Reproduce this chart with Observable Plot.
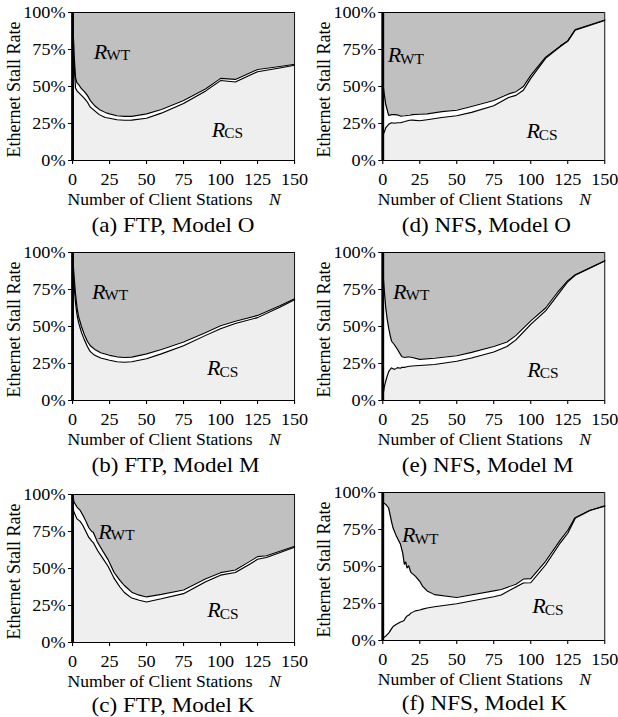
<!DOCTYPE html>
<html><head><meta charset="utf-8">
<script src="https://cdn.jsdelivr.net/npm/d3@7"></script>
<script src="https://cdn.jsdelivr.net/npm/@observablehq/plot@0.6"></script>
<style>
body{margin:0;background:#fff;overflow:hidden;}
#outer{position:relative;width:618px;height:717px;overflow:hidden;}
#wrap{position:absolute;left:0;top:0;width:562px;height:717px;transform:scaleX(1.1);transform-origin:0 0;font-family:"Liberation Serif","Times New Roman",serif;}
.panel{position:absolute;}
</style></head><body><div id="outer"><div id="wrap"></div></div>
<script>
// ---- data ----
const xTicks = [0, 25, 50, 75, 100, 125, 150];
const yTicks = [0, 25, 50, 75, 100];
const xLabelText = "Number of Client Stations";
const xLabelVar = "N";
const yLabelText = "Ethernet Stall Rate";

// (a) FTP, Model O
const nA   = [0, 1, 2, 3, 4, 6, 8, 10, 12, 15, 18, 22, 25, 30, 35, 40, 50, 60, 75, 90, 100, 110, 125, 140, 150];
const upA  = [100, 72, 56, 52.5, 51.5, 48.5, 46.5, 44, 40.5, 37, 34.5, 32.5, 31.5, 30.2, 29.8, 29.8, 31.5, 34.5, 40.5, 48.5, 55.5, 54.8, 61.5, 63.5, 65];
const lowA = [100, 66, 49, 47, 46, 44, 42, 39.5, 36, 33.5, 31, 29, 28.5, 27.5, 27.2, 27.3, 28.5, 32, 38.5, 47, 54, 53, 60, 62.5, 64.3];

// (b) FTP, Model M
const nB   = [0, 1, 2, 3, 4, 6, 8, 10, 12, 15, 19, 25, 30, 35, 40, 50, 60, 75, 90, 100, 110, 125, 140, 150];
const upB  = [100, 84, 72, 63, 57, 50, 44.5, 40, 37, 34.5, 32.3, 30.5, 29.5, 29, 29.3, 31.5, 34.5, 39.5, 46, 50.5, 53.5, 57.5, 64, 68.8];
const lowB = [100, 78, 66, 58, 53, 46, 41, 36.5, 33, 30.5, 28.7, 27.2, 26.2, 25.8, 26.2, 28.2, 31.5, 37, 44, 48.5, 52, 56, 63, 68];

// (c) FTP, Model K
const nC   = [0, 1, 3, 5, 7, 9, 11, 13, 14, 17, 20, 24, 28, 32, 35, 40, 45, 50, 60, 75, 90, 100, 110, 120, 125, 131, 150];
const upC  = [100, 95, 91.5, 89.5, 86, 82, 77.5, 75, 74.5, 67.5, 62.5, 56, 47.5, 42, 38.5, 34, 32, 30.8, 32.5, 35.5, 43, 47.2, 49, 55, 58, 58.6, 65];
const lowC = [92, 88, 83.5, 82, 79, 75, 71, 68.5, 67.5, 62, 57.5, 51.5, 43.5, 37.5, 33.8, 30, 28.5, 27.4, 29.5, 33, 41, 45.5, 47.3, 53, 56.2, 57.4, 64.3];

// (d) NFS, Model O
const nD   = [0, 1, 2, 4, 6, 8, 10, 12, 15, 18, 20, 25, 30, 40, 50, 60, 75, 85, 90, 95, 100, 110, 120, 125, 130, 150];
const upD  = [53, 45, 38, 30.5, 31, 31, 30.8, 30, 30.2, 30.6, 31, 31.2, 31.5, 33, 34, 36.5, 40.5, 45, 46.5, 50, 57.5, 69.8, 77.5, 81, 88.5, 95];
const lowD = [17, 19, 22, 24.5, 25.5, 25.2, 25.5, 25.5, 26.3, 27.2, 27.3, 26.8, 27.5, 29, 30.2, 32.5, 37, 42.5, 44, 47.5, 55.5, 69, 77, 80.5, 88, 94.6];

// (e) NFS, Model M
const nE   = [0, 1, 2, 3, 4, 5, 6, 8, 10, 12, 13, 15, 17, 20, 25, 35, 50, 60, 75, 84, 90, 100, 110, 118, 125, 130, 150];
const upE  = [88, 75, 63, 55, 49, 44, 40, 37.5, 34.5, 31, 29.5, 29, 29.6, 29, 27.8, 28.5, 30.2, 32.5, 36.5, 39.5, 44, 53.8, 62.5, 73, 81, 85, 94.5];
const lowE = [2, 9, 13, 16.5, 19.5, 21, 22, 21, 22.2, 21.8, 22.5, 22.4, 23, 23.3, 23.6, 24.3, 26.5, 28.7, 32.8, 36.5, 41, 51.5, 60.5, 71, 80.2, 84.6, 94.3];

// (f) NFS, Model K
const nF   = [0, 2, 4, 6, 7, 9, 12, 13.5, 14.6, 15.5, 16.4, 17.5, 19, 22, 25, 27, 30, 35, 50, 75, 80, 90, 95, 100, 110, 120, 125, 130, 140, 150];
const upF  = [93.5, 92, 89.5, 80, 76, 71, 65, 59, 51.5, 53, 49, 50.5, 46, 43.5, 40, 36.5, 33.5, 31, 29, 33.5, 34.5, 38, 41.5, 41.8, 53.5, 68, 74.5, 83.2, 88, 91];
const lowF = [1.5, 3, 5, 8, 9.5, 10.8, 12.5, 13, 13.8, 15.5, 16.5, 17, 18.5, 20, 20.6, 21.2, 22, 22.8, 24.8, 29.5, 30.8, 36.2, 38.8, 39, 51, 66, 72.5, 82.5, 87.8, 90.8];

const captions = ["(a) FTP, Model O", "(b) FTP, Model M", "(c) FTP, Model K",
                  "(d) NFS, Model O", "(e) NFS, Model M", "(f) NFS, Model K"];
// label anchor positions (N, %) for R_WT and R_CS
const wtPos = [[27, 68.3], [25.7, 68.5], [30, 69.7], [16, 66], [19.6, 68.5], [25.7, 66]];
const csPos = [[105, 15.7], [101.8, 16.8], [102, 16.8], [108, 14.6], [108.6, 15.8], [112, 18]];

const series = [[nA, lowA, upA], [nB, lowB, upB], [nC, lowC, upC],
                [nD, lowD, upD], [nE, lowE, upE], [nF, lowF, upF]];

// ---- layout (design units; the whole page is stretched horizontally by S) ----
const S = 1.1;
const PW = 309 / S;                        // panel width
const colLeft = [0, 0, 0, 310 / S, 310 / S, 310 / S];
const rowTop = [0, 240, 482, 0, 240, 480];
const capOff = [72, 72, 70, 72, 72, 70];
const PH = 148, MT = 12;

const FONT = "Liberation Serif, Times New Roman, serif";
const DARK = "#c0c0c0", LIGHT = "#efefef";
const wrap = document.getElementById("wrap");

function subLabel(svg, x, y, main, sub) {
  const t = svg.append("text").attr("x", x).attr("y", y)
    .attr("font-family", FONT).attr("fill", "black");
  t.append("tspan").attr("font-style", "italic").attr("font-size", 20).text(main);
  t.append("tspan").attr("font-size", 14).attr("dx", -1).attr("dy", 1.5).text(sub);
}

series.forEach(([N, lo, up], i) => {
  const H = 240, mb = H - MT - PH;
  const data = N.map((n, k) => ({n, lo: lo[k], up: up[k]}));
  const plot = Plot.plot({
    width: PW, height: H,
    marginTop: MT, marginBottom: mb, marginLeft: 72 / S, marginRight: 15 / S,
    style: {fontFamily: FONT, fontSize: "16.5px", background: "transparent", color: "black", overflow: "visible"},
    x: {domain: [0, 150]},
    y: {domain: [0, 100]},
    marks: [
      Plot.areaY(data, {x: "n", y1: "up", y2: 100, fill: DARK}),
      Plot.areaY(data, {x: "n", y1: 0, y2: "lo", fill: LIGHT}),
      Plot.line(data, {x: "n", y: "up", stroke: "black", strokeWidth: 1.1}),
      Plot.line(data, {x: "n", y: "lo", stroke: "black", strokeWidth: 1.1}),
      Plot.ruleY([100], {stroke: "black", strokeWidth: 1}),
      Plot.ruleX([150], {stroke: "black", strokeWidth: 0.9}),
      Plot.ruleY([0], {stroke: "black", strokeWidth: 1.2}),
      Plot.ruleX([0], {stroke: "black", strokeWidth: 2.6}),
      Plot.axisX({ticks: xTicks, tickSize: 4, tickPadding: 8.5, label: null, fontSize: 16.5}),
      Plot.axisY({ticks: yTicks, tickSize: 4 / S, tickPadding: 3 / S, tickFormat: d => d + "%", label: null, fontSize: 16.5})
    ]
  });
  plot.classList.add("panel");
  plot.style.left = colLeft[i] + "px";
  plot.style.top = rowTop[i] + "px";
  wrap.appendChild(plot);

  const svg = d3.select(plot);
  const sx = plot.scale("x"), sy = plot.scale("y");
  const bottom = MT + PH;
  // y label
  svg.append("text")
    .attr("transform", `translate(${20 / S},${MT + PH / 2 + 3.5}) rotate(-90)`)
    .attr("text-anchor", "middle").attr("font-family", FONT).attr("font-size", 18)
    .attr("fill", "black").text(yLabelText);
  // x label
  const xl = svg.append("text").attr("x", 67.5 / S).attr("y", bottom + 45)
    .attr("text-anchor", "start").attr("font-family", FONT).attr("font-size", 16).attr("fill", "black");
  xl.append("tspan").text(xLabelText);
  xl.append("tspan").attr("dx", 15).attr("font-style", "italic").text(xLabelVar);
  // caption
  svg.append("text").attr("x", 91.5 / S).attr("y", bottom + capOff[i])
    .attr("text-anchor", "start").attr("font-family", FONT).attr("font-size", 21)
    .attr("fill", "black").text(captions[i]);
  // region labels
  subLabel(svg, sx.apply(wtPos[i][0]), sy.apply(wtPos[i][1]), "R", "WT");
  subLabel(svg, sx.apply(csPos[i][0]), sy.apply(csPos[i][1]), "R", "CS");
});
</script></body></html>
